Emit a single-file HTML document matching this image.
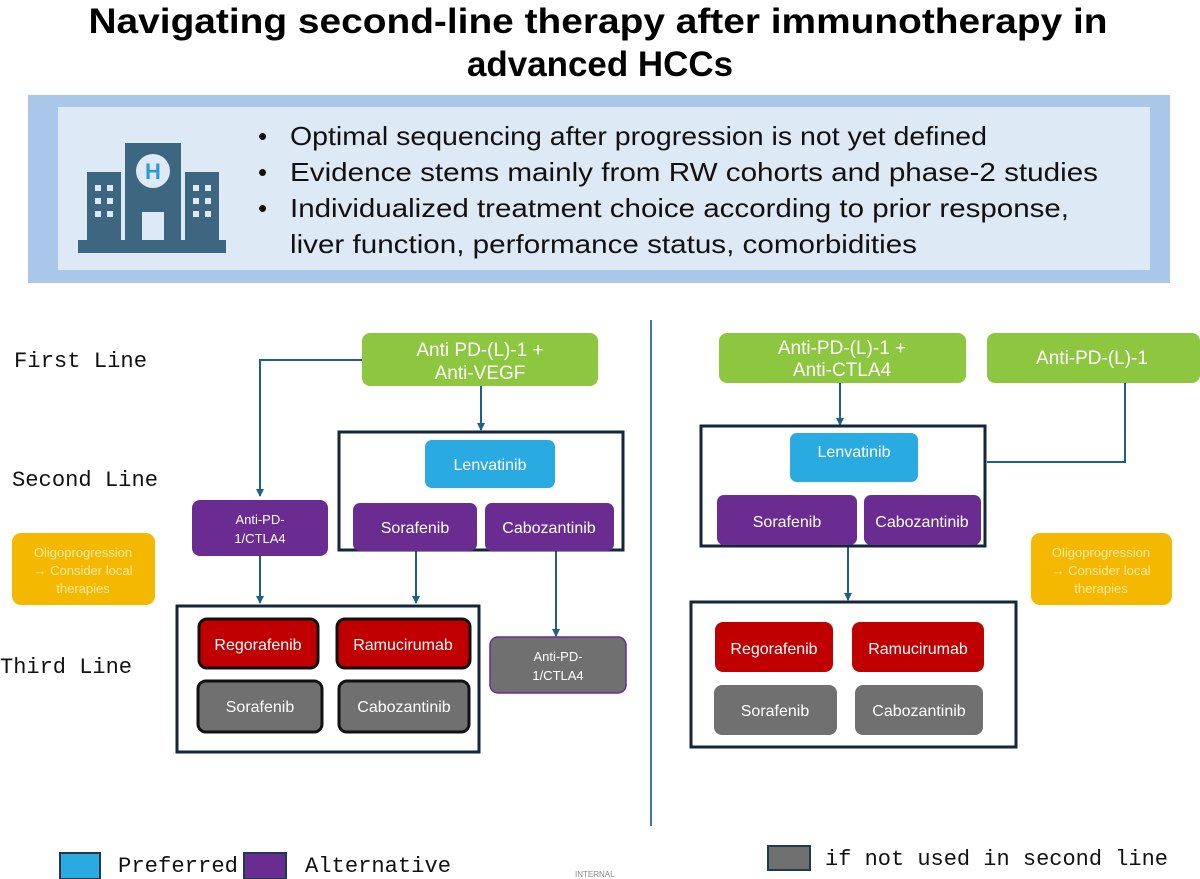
<!DOCTYPE html>
<html><head><meta charset="utf-8"><style>
html,body{margin:0;padding:0;background:#fff;}
svg{display:block;}
text{font-family:"Liberation Sans",Arial,sans-serif;}
.m{font-family:"Liberation Mono","DejaVu Sans Mono",monospace;}
</style></head><body>
<svg width="1200" height="879" viewBox="0 0 1200 879" xmlns="http://www.w3.org/2000/svg">
<defs>
<marker id="a" markerWidth="8" markerHeight="8" refX="7" refY="4" orient="auto" markerUnits="userSpaceOnUse">
<path d="M0,0 L8,4 L0,8 z" fill="#1f5f8b"/>
</marker>
</defs>
<text x="598" y="33" text-anchor="middle" font-size="35" font-weight="bold" textLength="1019" lengthAdjust="spacingAndGlyphs">Navigating second-line therapy after immunotherapy in</text>
<text x="600" y="76" text-anchor="middle" font-size="35" font-weight="bold" textLength="266" lengthAdjust="spacingAndGlyphs">advanced HCCs</text>
<rect x="28" y="95" width="1142" height="188" fill="#a9c7e8"/>
<rect x="58" y="107" width="1092" height="163" fill="#dee9f6"/>
<g fill="#3d6681">
<rect x="87" y="172" width="34" height="68"/>
<rect x="185" y="172" width="34" height="68"/>
<rect x="125" y="143" width="56" height="97"/>
<rect x="78" y="240" width="148" height="13"/>
</g>
<circle cx="153" cy="171" r="17" fill="#dee9f6"/>
<text x="153" y="179" text-anchor="middle" font-size="22" font-weight="bold" fill="#2f97d6">H</text>
<rect x="142" y="212" width="22" height="28" fill="#dee9f6"/>
<g fill="#dee9f6">
<rect x="95" y="185" width="6" height="6"/><rect x="107" y="185" width="6" height="6"/>
<rect x="95" y="198" width="6" height="6"/><rect x="107" y="198" width="6" height="6"/>
<rect x="95" y="211" width="6" height="6"/><rect x="107" y="211" width="6" height="6"/>
<rect x="193" y="185" width="6" height="6"/><rect x="205" y="185" width="6" height="6"/>
<rect x="193" y="198" width="6" height="6"/><rect x="205" y="198" width="6" height="6"/>
<rect x="193" y="211" width="6" height="6"/><rect x="205" y="211" width="6" height="6"/>
</g>
<g font-size="26" fill="#111">
<text x="258" y="145">•</text><text x="258" y="181">•</text><text x="258" y="217">•</text>
<text x="290" y="145" textLength="697" lengthAdjust="spacingAndGlyphs">Optimal sequencing after progression is not yet defined</text>
<text x="290" y="181" textLength="808" lengthAdjust="spacingAndGlyphs">Evidence stems mainly from RW cohorts and phase-2 studies</text>
<text x="290" y="217" textLength="779" lengthAdjust="spacingAndGlyphs">Individualized treatment choice according to prior response,</text>
<text x="290" y="253" textLength="627" lengthAdjust="spacingAndGlyphs">liver function, performance status, comorbidities</text>
</g>
<g font-size="22" fill="#111">
<text x="14" y="367" class="m" textLength="133" lengthAdjust="spacingAndGlyphs">First Line</text>
<text x="12" y="486" class="m" textLength="146" lengthAdjust="spacingAndGlyphs">Second Line</text>
<text x="0" y="673" class="m" textLength="132" lengthAdjust="spacingAndGlyphs">Third Line</text>
</g>
<line x1="651" y1="320" x2="651" y2="826" stroke="#3a78ad" stroke-width="2"/>
<g stroke="#1f5f8b" stroke-width="2" fill="none">
<path d="M362,360 H260 V496" marker-end="url(#a)"/>
<path d="M481,386 V430" marker-end="url(#a)"/>
<path d="M260,556 V603" marker-end="url(#a)"/>
<path d="M416,551 V603" marker-end="url(#a)"/>
<path d="M556,551 V636" marker-end="url(#a)"/>
<path d="M840,383 V425" marker-end="url(#a)"/>
<path d="M1125,383 V462 H987"/>
<path d="M848,547 V600" marker-end="url(#a)"/>
</g>
<rect x="362" y="333" width="236" height="53" rx="8" fill="#8dc63f"/>
<text x="480" y="356" text-anchor="middle" font-size="19" fill="#fff">Anti PD-(L)-1 +</text>
<text x="480" y="379" text-anchor="middle" font-size="19" fill="#fff">Anti-VEGF</text>
<rect x="339" y="432" width="284" height="118" fill="none" stroke="#15263a" stroke-width="3"/>
<rect x="425" y="440" width="130" height="48" rx="7" fill="#29abe2"/>
<text x="490" y="470" text-anchor="middle" font-size="16" fill="#fff">Lenvatinib</text>
<rect x="353" y="503" width="124" height="48" rx="7" fill="#6a2c91"/>
<text x="415" y="533" text-anchor="middle" font-size="16" fill="#fff">Sorafenib</text>
<rect x="485" y="503" width="129" height="48" rx="7" fill="#6a2c91"/>
<text x="549" y="533" text-anchor="middle" font-size="16" fill="#fff">Cabozantinib</text>
<rect x="192" y="500" width="136" height="56" rx="8" fill="#6a2c91"/>
<text x="260" y="524" text-anchor="middle" font-size="13" fill="#fff">Anti-PD-</text>
<text x="260" y="543" text-anchor="middle" font-size="13" fill="#fff">1/CTLA4</text>
<rect x="12" y="533" width="143" height="72" rx="9" fill="#f5b800"/>
<g font-size="13" fill="#fde9a6" text-anchor="middle">
<text x="83" y="557">Oligoprogression</text><text x="83" y="575">→ Consider local</text><text x="83" y="593">therapies</text>
</g>
<rect x="177" y="606" width="302" height="146" fill="none" stroke="#15263a" stroke-width="3"/>
<g stroke="#111" stroke-width="3">
<rect x="199" y="619" width="119" height="49" rx="8" fill="#c00000"/>
<rect x="337" y="619" width="133" height="49" rx="8" fill="#c00000"/>
<rect x="198" y="681" width="124" height="51" rx="8" fill="#707070"/>
<rect x="339" y="681" width="130" height="51" rx="8" fill="#707070"/>
</g>
<g font-size="16" fill="#fff" text-anchor="middle">
<text x="258" y="650">Regorafenib</text><text x="403" y="650">Ramucirumab</text>
<text x="260" y="712">Sorafenib</text><text x="404" y="712">Cabozantinib</text>
</g>
<rect x="490" y="637" width="136" height="56" rx="8" fill="#707070" stroke="#6a2c91" stroke-width="1.5"/>
<text x="558" y="661" text-anchor="middle" font-size="13" fill="#fff">Anti-PD-</text>
<text x="558" y="680" text-anchor="middle" font-size="13" fill="#fff">1/CTLA4</text>
<rect x="719" y="333" width="247" height="50" rx="8" fill="#8dc63f"/>
<text x="842" y="354" text-anchor="middle" font-size="19" fill="#fff">Anti-PD-(L)-1 +</text>
<text x="842" y="376" text-anchor="middle" font-size="19" fill="#fff">Anti-CTLA4</text>
<rect x="987" y="333" width="213" height="50" rx="8" fill="#8dc63f"/>
<text x="1092" y="364" text-anchor="middle" font-size="19" fill="#fff">Anti-PD-(L)-1</text>
<rect x="701" y="426" width="284" height="120" fill="none" stroke="#15263a" stroke-width="3"/>
<rect x="790" y="433" width="128" height="49" rx="7" fill="#29abe2"/>
<text x="854" y="457" text-anchor="middle" font-size="16" fill="#fff">Lenvatinib</text>
<rect x="717" y="495" width="140" height="50" rx="7" fill="#6a2c91"/>
<text x="787" y="527" text-anchor="middle" font-size="16" fill="#fff">Sorafenib</text>
<rect x="864" y="495" width="117" height="50" rx="7" fill="#6a2c91"/>
<text x="922" y="527" text-anchor="middle" font-size="16" fill="#fff">Cabozantinib</text>
<rect x="691" y="602" width="325" height="145" fill="none" stroke="#15263a" stroke-width="3"/>
<rect x="715" y="622" width="118" height="50" rx="8" fill="#c00000"/>
<rect x="852" y="622" width="132" height="50" rx="8" fill="#c00000"/>
<rect x="714" y="685" width="123" height="50" rx="8" fill="#707070"/>
<rect x="855" y="685" width="128" height="50" rx="8" fill="#707070"/>
<g font-size="16" fill="#fff" text-anchor="middle">
<text x="774" y="654">Regorafenib</text><text x="918" y="654">Ramucirumab</text>
<text x="775" y="716">Sorafenib</text><text x="919" y="716">Cabozantinib</text>
</g>
<rect x="1031" y="533" width="141" height="72" rx="9" fill="#f5b800"/>
<g font-size="13" fill="#fde9a6" text-anchor="middle">
<text x="1101" y="557">Oligoprogression</text><text x="1101" y="575">→ Consider local</text><text x="1101" y="593">therapies</text>
</g>
<rect x="60" y="853" width="40" height="26" fill="#29abe2" stroke="#1e3a4f" stroke-width="2"/>
<text x="118" y="872" class="m" font-size="22" fill="#111" textLength="120" lengthAdjust="spacingAndGlyphs">Preferred</text>
<rect x="244" y="853" width="42" height="26" fill="#6a2c91" stroke="#1e3a4f" stroke-width="2"/>
<text x="305" y="872" class="m" font-size="22" fill="#111" textLength="146" lengthAdjust="spacingAndGlyphs">Alternative</text>
<text x="575" y="877" font-size="8" fill="#888">INTERNAL</text>
<rect x="768" y="846" width="42" height="24" fill="#707070" stroke="#1e3a4f" stroke-width="2"/>
<text x="825" y="865" class="m" font-size="22" fill="#111" textLength="343" lengthAdjust="spacingAndGlyphs">if not used in second line</text>
</svg>
</body></html>
